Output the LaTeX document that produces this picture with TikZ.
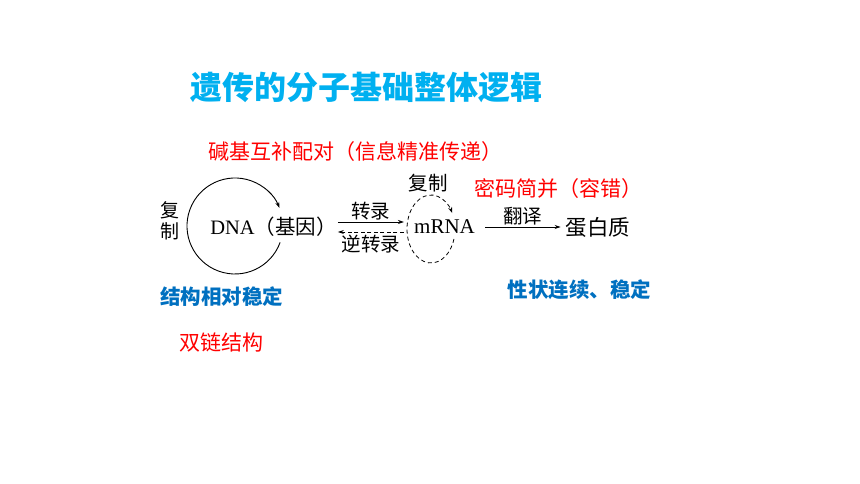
\documentclass[tikz,border=0pt]{standalone}
\usepackage{fontspec}
\setmainfont{Liberation Serif}
\newfontfamily\cjk{Noto Sans CJK SC}
\usetikzlibrary{arrows.meta}
\definecolor{titleblue}{RGB}{0,176,240}
\definecolor{textblue}{RGB}{0,112,192}

\begin{document}
\begin{tikzpicture}[x=1pt,y=1pt,>={Stealth[length=6pt,width=4pt]},
    word/.style={inner sep=0pt,font=\fontsize{21}{23}\selectfont},
    lab/.style={inner sep=1pt,font=\cjk\fontsize{19.5}{21}\selectfont},
    note/.style={inner sep=0pt,text=red,font=\cjk\fontsize{21}{23}\selectfont},
    keep/.style={inner sep=0pt,text=textblue,font=\cjk\bfseries\fontsize{20.5}{22}\selectfont}]
    \useasboundingbox[fill=white](0,0)rectangle(860,484);
    \node[inner sep=0pt,text=titleblue,font=\cjk\bfseries\fontsize{32}{34}\selectfont](title)at(366.5,397){遗传的分子基础整体逻辑};
    \node[note](pairing)at(355,332){碱基互补配对（信息精准传递）};
    \node[note](degen)at(558.5,295){密码简并（容错）};
    \node[keep](stable)at(221.5,187){结构相对稳定};
    \node[keep](trait)at(579.5,194){性状连续、稳定};
    \node[note](double)at(221.5,141){双链结构};
    % central dogma
    \node[word,inner xsep=1pt,font=\fontsize{20.5}{23}\selectfont](dna)at(273.5,257){DNA{\cjk（基因）}};
    \node[word,inner xsep=10pt](mrna)at(444.5,257){mRNA};
    \node[word,inner xsep=5pt,font=\cjk\fontsize{21.5}{23}\selectfont](prot)at(598,257){蛋白质};
    \node[lab,align=center,font=\cjk\fontsize{19}{21}\selectfont](repl)at(170,263){复\\制};
    \node[lab](rrepl)at(428,301){复制};
    \draw[->,line width=0.7pt]([yshift=5pt]dna.east)--([yshift=5pt]mrna.west)node[lab,midway,above=1pt](trans){转录};
    \draw[->,dash pattern=on 4pt off 2.5pt,line width=0.7pt]([yshift=-5pt]mrna.west)--([yshift=-5pt]dna.east)node[lab,midway,below=2pt](rtrans){逆转录};
    \draw[->,line width=0.7pt](mrna.east)--(prot.west)node[lab,midway,above=1pt](transl){翻译};
    \draw[->,line width=0.9pt]([shift={(-20:48)}]235,258)arc[start angle=-20,end angle=-338,radius=48];
    \draw[->,dash pattern=on 4pt off 3pt,line width=0.8pt]([shift={(-17:24 and 34)}]431,255)arc[start angle=-17,end angle=-332,x radius=24,y radius=34];
\end{tikzpicture}
\end{document}
